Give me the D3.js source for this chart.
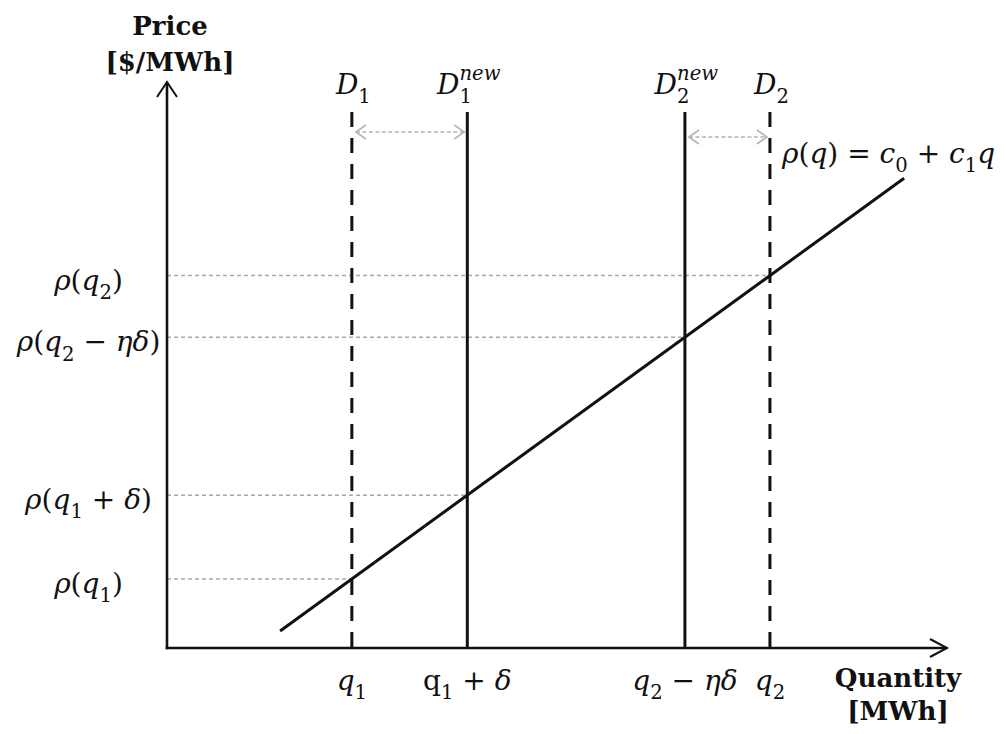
<!DOCTYPE html>
<html>
<head>
<meta charset="utf-8">
<script src="https://cdn.jsdelivr.net/npm/d3@7"></script>
<style>
  body { margin: 0; background: #fff; }
  text { white-space: pre; }
</style>
</head>
<body>
<svg id="chart" width="1006" height="734"></svg>
<script>
// ---- data -------------------------------------------------------------
// Demand levels (quantity, MWh) and their names
const demandNames = ["D_1", "D^{new}_1", "D^{new}_2", "D_2"];
const demandQuantities = [2.37, 3.85, 6.64, 7.73];
const demandDashed = [true, false, false, true];

// Labels under the quantity axis (one per demand level)
const quantityTickLabels = ["q_1", "!q_1 + δ", "q_2 − ηδ", "q_2"];
// Labels beside the price axis (price at each demand level)
const priceTickLabels = ["ρ(q_1)", "ρ(q_1 + δ)", "ρ(q_2 − ηδ)", "ρ(q_2)"];

// Linear supply curve ρ(q) = c0 + c1 q
const supplyIntercept = -1.15;
const supplySlope = 1.0;
const supplyQuantityRange = [1.45, 9.45];
const supplyLabel = "ρ(q) = c_0 + c_1q";

// Demand shifts shown as double arrows: [from index, to index]
const demandShifts = [[0, 1], [3, 2]];

// ---- layout -----------------------------------------------------------
const svg = d3.select("#chart");
const mathFont = "'DejaVu Serif', 'Liberation Serif', serif";
const titleFont = "'DejaVu Serif', 'Liberation Serif', serif";
const mathSize = 28;

const x = d3.scaleLinear().domain([0, 10]).range([167, 947]);
const y = d3.scaleLinear().domain([0, 10]).range([648, 82]);
const supply = q => supplyIntercept + supplySlope * q;

const demandTop = 112;          // top end of the demand lines
const shiftRows = [132, 137];   // vertical position of each shift arrow

// Small math-text renderer: "_" subscript, "^" superscript ({..} groups),
// "!" keeps the next letter upright; other letters are set in italic.
function parseMath(s) {
  const tokens = [];
  let i = 0;
  const readGroup = () => {
    if (s[i] === "{") {
      const end = s.indexOf("}", i);
      const g = s.slice(i + 1, end);
      i = end + 1;
      return g;
    }
    return s[i++];
  };
  while (i < s.length) {
    const c = s[i];
    if (c === "_" || c === "^") {
      i++;
      tokens.push({ text: readGroup(), mode: c === "_" ? "sub" : "sup" });
    } else if (c === "!") {
      tokens.push({ text: s[i + 1], mode: "base", upright: true });
      i += 2;
    } else {
      tokens.push({ text: c, mode: "base" });
      i++;
    }
  }
  return tokens;
}

function mathLabel(parent, str, cx, baseline, size, anchor = "middle") {
  const g = parent.append("g");
  const text = g.append("text")
    .attr("font-family", mathFont)
    .attr("font-size", size)
    .attr("fill", "#111");
  let shift = 0;
  let prev = null;
  parseMath(str).forEach(tok => {
    const target = tok.mode === "sub" ? size * 0.33 : tok.mode === "sup" ? -size * 0.5 : 0;
    const italic = !tok.upright && /[A-Za-z\u03b1-\u03c9]/.test(tok.text);
    const ts = text.append("tspan")
      .text(tok.text)
      .attr("dy", target - shift)
      .attr("font-size", tok.mode === "base" ? size : size * 0.7)
      .attr("font-style", italic ? "italic" : "normal");
    if (tok.mode === "sub" && prev && prev.mode === "sup") {
      ts.attr("dx", -prev.node.getComputedTextLength());
    }
    shift = target;
    prev = { mode: tok.mode, node: ts.node() };
  });
  const bb = text.node().getBBox();
  const dx = anchor === "middle" ? cx - (bb.x + bb.width / 2)
           : anchor === "end" ? cx - (bb.x + bb.width)
           : cx - bb.x;
  g.attr("transform", `translate(${dx},${baseline})`);
  return g;
}

// ---- guide lines from the price axis to each intersection -----------
const guides = svg.append("g");
demandQuantities.forEach(q => {
  guides.append("line")
    .attr("x1", x(0)).attr("x2", x(q))
    .attr("y1", y(supply(q))).attr("y2", y(supply(q)))
    .attr("stroke", "#a8a8a8").attr("stroke-width", 1.4)
    .attr("stroke-dasharray", "4 3");
});

// ---- demand-shift double arrows --------------------------------------
const shifts = svg.append("g").attr("stroke", "#b4b4b4").attr("fill", "none");
demandShifts.forEach(([a, b], k) => {
  const xa = x(demandQuantities[a]), xb = x(demandQuantities[b]);
  const lo = Math.min(xa, xb) + 4, hi = Math.max(xa, xb) - 3;
  const yy = shiftRows[k];
  shifts.append("line").attr("x1", lo).attr("x2", hi).attr("y1", yy).attr("y2", yy)
    .attr("stroke-width", 1.6).attr("stroke-dasharray", "4 2.5");
  shifts.append("path").attr("d", `M${lo + 10},${yy - 7}L${lo},${yy}L${lo + 10},${yy + 7}`)
    .attr("stroke-width", 1.6);
  shifts.append("path").attr("d", `M${hi - 10},${yy - 7}L${hi},${yy}L${hi - 10},${yy + 7}`)
    .attr("stroke-width", 1.6);
});

// ---- demand lines ----------------------------------------------------
const demand = svg.append("g");
demandQuantities.forEach((q, i) => {
  demand.append("line")
    .attr("x1", x(q)).attr("x2", x(q))
    .attr("y1", demandTop).attr("y2", y(0))
    .attr("stroke", "#111").attr("stroke-width", 3)
    .attr("stroke-dasharray", demandDashed[i] ? "15 11" : null);
  mathLabel(svg, demandNames[i], x(q) + 1, 94, mathSize);
});

// ---- supply line -----------------------------------------------------
svg.append("path")
  .datum(supplyQuantityRange)
  .attr("d", d3.line().x(q => x(q)).y(q => y(supply(q))))
  .attr("stroke", "#111").attr("stroke-width", 3).attr("fill", "none");
mathLabel(svg, supplyLabel, 781, 163, mathSize, "start");

// ---- axes ------------------------------------------------------------
const axes = svg.append("g").attr("stroke", "#111").attr("fill", "none").attr("stroke-width", 2.6);
axes.append("line").attr("x1", x(0)).attr("x2", x(0)).attr("y1", y(0) + 1.3).attr("y2", y(10));
axes.append("line").attr("x1", x(0) - 1.3).attr("x2", x(10)).attr("y1", y(0)).attr("y2", y(0));
axes.append("path").attr("stroke-width", 2)
  .attr("d", `M${x(0) - 10},${y(10) + 15}L${x(0)},${y(10)}L${x(0) + 10},${y(10) + 15}`);
axes.append("path").attr("stroke-width", 2)
  .attr("d", `M${x(10) - 17},${y(0) - 9}L${x(10)},${y(0)}L${x(10) - 17},${y(0) + 9}`);

// tick labels
demandQuantities.forEach((q, i) => {
  mathLabel(svg, quantityTickLabels[i], x(q), 690, mathSize);
  mathLabel(svg, priceTickLabels[i], 88, y(supply(q)) + 14, mathSize);
});

// axis titles
const titles = svg.append("g")
  .attr("font-family", titleFont).attr("font-weight", "bold")
  .attr("font-size", 26).attr("fill", "#111").attr("text-anchor", "middle");
titles.append("text").attr("x", 170).attr("y", 35).text("Price");
titles.append("text").attr("x", 170).attr("y", 71).text("[$/MWh]");
titles.append("text").attr("x", 898).attr("y", 687).text("Quantity");
titles.append("text").attr("x", 898).attr("y", 720).text("[MWh]");
</script>
</body>
</html>
